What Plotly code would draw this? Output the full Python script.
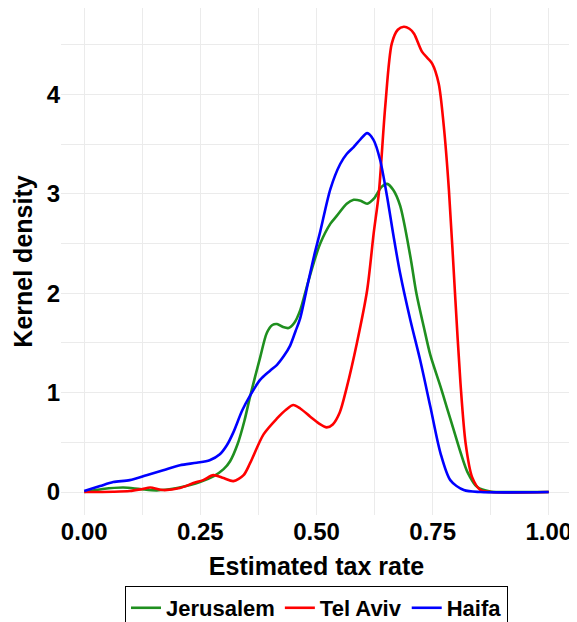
import plotly.graph_objects as go

# Estimated tax rate (x) and kernel density (y)
jer_x = [0.0, 0.04, 0.084, 0.12, 0.156, 0.2, 0.228, 0.249, 0.279, 0.30, 0.314, 0.33, 0.345, 0.357,
         0.379, 0.393, 0.405, 0.415, 0.428, 0.44, 0.452, 0.465, 0.48, 0.495, 0.508, 0.53, 0.544,
         0.565, 0.58, 0.595, 0.609, 0.625, 0.64, 0.652, 0.665, 0.68, 0.702, 0.715, 0.731, 0.745,
         0.767, 0.78, 0.795, 0.81, 0.825, 0.846, 0.874, 0.9, 1.0]
jer_y = [0.0, 0.03, 0.045, 0.03, 0.017, 0.04, 0.07, 0.10, 0.16, 0.23, 0.31, 0.48, 0.72, 0.96,
         1.36, 1.60, 1.68, 1.69, 1.66, 1.65, 1.70, 1.83, 2.08, 2.32, 2.50, 2.70, 2.78,
         2.90, 2.94, 2.93, 2.90, 2.96, 3.07, 3.10, 3.04, 2.88, 2.37, 2.0, 1.66, 1.38,
         1.06, 0.86, 0.63, 0.40, 0.20, 0.05, 0.005, 0.0, 0.0]

tlv_x = [0.0, 0.062, 0.098, 0.125, 0.142, 0.17, 0.206, 0.235, 0.256, 0.278, 0.30, 0.321, 0.343,
         0.357, 0.386, 0.415, 0.435, 0.45, 0.465, 0.486, 0.505, 0.522, 0.535, 0.55, 0.565, 0.587,
         0.609, 0.623, 0.634, 0.648, 0.662, 0.675, 0.688, 0.70, 0.71, 0.727, 0.74, 0.749, 0.763,
         0.774, 0.785, 0.799, 0.81, 0.821, 0.835, 0.853, 0.875, 1.0]
tlv_y = [0.0, 0.003, 0.01, 0.03, 0.045, 0.02, 0.04, 0.09, 0.12, 0.17, 0.14, 0.11, 0.17,
         0.29, 0.58, 0.74, 0.83, 0.875, 0.84, 0.76, 0.69, 0.65, 0.68, 0.80, 1.05, 1.5,
         2.03, 2.6, 3.0, 3.88, 4.51, 4.65, 4.68, 4.66, 4.61, 4.43, 4.36, 4.31, 4.11,
         3.68, 3.04, 1.93, 1.09, 0.49, 0.15, 0.02, 0.0, 0.0]

hai_x = [0.0, 0.034, 0.0625, 0.098, 0.134, 0.17, 0.206, 0.242, 0.27, 0.292, 0.307, 0.321, 0.34,
         0.357, 0.379, 0.40, 0.415, 0.43, 0.443, 0.455, 0.465, 0.483, 0.495, 0.508, 0.53, 0.551,
         0.565, 0.58, 0.595, 0.609, 0.623, 0.637, 0.652, 0.666, 0.68, 0.702, 0.723, 0.745, 0.767,
         0.788, 0.817, 0.853, 1.0]
hai_y = [0.01, 0.06, 0.10, 0.12, 0.17, 0.22, 0.27, 0.295, 0.32, 0.38, 0.47, 0.60, 0.82,
         0.97, 1.13, 1.22, 1.28, 1.37, 1.47, 1.62, 1.75, 2.13, 2.38, 2.62, 3.05, 3.30,
         3.40, 3.47, 3.55, 3.61, 3.54, 3.34, 2.97, 2.57, 2.2, 1.73, 1.33, 0.86, 0.39,
         0.12, 0.02, 0.0, 0.0]

series = [
    ("Jerusalem", jer_x, jer_y, "#1f8f1f"),
    ("Tel Aviv", tlv_x, tlv_y, "#ff0000"),
    ("Haifa", hai_x, hai_y, "#0000ff"),
]

x_ticks = [0.0, 0.25, 0.5, 0.75, 1.0]
x_tick_labels = ["0.00", "0.25", "0.50", "0.75", "1.00"]
y_ticks = [0, 1, 2, 3, 4]
y_tick_labels = ["0", "1", "2", "3", "4"]

FONT = "Liberation Sans, Arial, sans-serif"

fig = go.Figure()
for name, xs, ys, col in series:
    fig.add_trace(go.Scatter(x=xs, y=ys, mode="lines", name=name,
                             line=dict(color=col, width=2.6, shape="spline", smoothing=0.8)))

grid = "#ebebeb"
fig.update_layout(
    width=577, height=622,
    margin=dict(l=53, r=13, t=0, b=115),
    paper_bgcolor="white", plot_bgcolor="white",
    font=dict(family=FONT, color="black", size=22, weight="bold"),
    xaxis=dict(range=[-0.05, 1.05], tickvals=x_ticks, ticktext=x_tick_labels, automargin=False,
               showgrid=True, gridcolor=grid, gridwidth=1, zeroline=False, showline=False,
               ticks="", tickfont=dict(size=24, family=FONT, weight="bold", color="black"),
               minor=dict(dtick=0.125, tick0=0, showgrid=True, gridcolor=grid, gridwidth=1),
               title=dict(text="Estimated tax rate", standoff=13,
                          font=dict(size=25, family=FONT, weight="bold", color="black"))),
    yaxis=dict(range=[-0.231, 4.869], tickvals=y_ticks, ticktext=y_tick_labels, automargin=False,
               showgrid=True, gridcolor=grid, gridwidth=1, zeroline=False, showline=False,
               ticks="", tickfont=dict(size=24, family=FONT, weight="bold", color="black"),
               minor=dict(dtick=0.5, tick0=0, showgrid=True, gridcolor=grid, gridwidth=1),
               title=dict(text="Kernel density", standoff=6,
                          font=dict(size=25, family=FONT, weight="bold", color="black"))),
    legend=dict(orientation="h", x=0.5, xanchor="center", y=-0.140, yanchor="top",
                bordercolor="black", borderwidth=1, bgcolor="white",
                font=dict(size=22, family=FONT, weight="bold", color="black"),
                itemwidth=30, tracegroupgap=0),
    showlegend=True,
)

fig.write_html("out.html")
